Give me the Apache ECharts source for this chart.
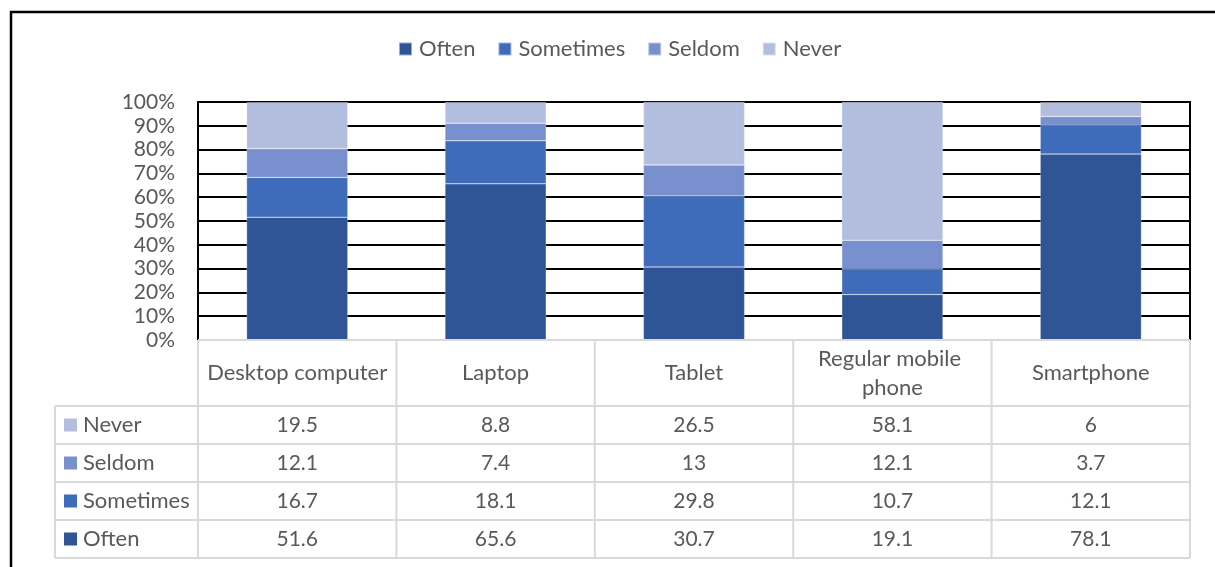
<!DOCTYPE html>
<html><head><meta charset="utf-8">
<script src="https://cdn.jsdelivr.net/npm/echarts@6/dist/echarts.min.js"></script>
<style>html,body{margin:0;padding:0;background:#fff}#c{width:1215px;height:567px}</style>
</head><body><div id="c"></div>
<script>
const categories = ['Desktop computer', 'Laptop', 'Tablet', 'Regular mobile phone', 'Smartphone'];
const often = [51.6, 65.6, 30.7, 19.1, 78.1];
const sometimes = [16.7, 18.1, 29.8, 10.7, 12.1];
const seldom = [12.1, 7.4, 13, 12.1, 3.7];
const never = [19.5, 8.8, 26.5, 58.1, 6];
const seriesNames = ['Often', 'Sometimes', 'Seldom', 'Never'];
const yTicks = [0, 10, 20, 30, 40, 50, 60, 70, 80, 90, 100];

const colors = ['#2F5597', '#3E6BBA', '#7891CE', '#B3BEDF'];
const FONT = 'Lato, "Open Sans", sans-serif';
const TXT = '#595959';
const WORD = 22, NUM = 21;
const seriesData = [often, sometimes, seldom, never];

const chart = echarts.init(document.getElementById('c'), null, {renderer: 'canvas'});
const gridLeft = 198, gridRight = 25, gridTop = 102, gridBottom = 227;

chart.setOption({
  animation: false,
  textStyle: {fontFamily: FONT},
  legend: {
    top: 33, left: 393, icon: 'rect', itemWidth: 13, itemHeight: 13, itemGap: 22,
    data: seriesNames,
    textStyle: {fontSize: WORD, color: TXT, fontFamily: FONT, padding: [0, 0, 0, 2]}
  },
  grid: {left: gridLeft, right: gridRight, top: gridTop, bottom: gridBottom, show: true, borderColor: '#000', borderWidth: 2},
  xAxis: {
    type: 'category', data: categories,
    axisLine: {show: false}, axisTick: {show: false},
    axisLabel: {margin: 33, verticalAlign: 'middle', color: TXT, fontSize: WORD, fontFamily: FONT,
      width: 185, overflow: 'break', lineHeight: 29, interval: 0}
  },
  yAxis: {
    type: 'value', min: yTicks[0], max: yTicks[yTicks.length - 1], interval: 10,
    axisLine: {show: true, lineStyle: {color: '#000', width: 2}},
    axisTick: {show: false},
    axisLabel: {formatter: '{value}%', color: TXT, fontSize: NUM, fontFamily: FONT, margin: 23},
    splitLine: {lineStyle: {color: '#000', width: 2}}
  },
  series: seriesNames.map((n, i) => ({
    name: n, type: 'bar', stack: 'all', data: seriesData[i], barWidth: '51%',
    itemStyle: {color: colors[i], borderColor: 'rgba(255,255,255,0.5)', borderWidth: 0.5}
  }))
});

// Data table below the plot, laid out from the category axis
const colCenters = categories.map(c => chart.convertToPixel({xAxisIndex: 0}, c));
const half = (colCenters[1] - colCenters[0]) / 2;
const colEdges = colCenters.map(c => c - half).concat([colCenters[colCenters.length - 1] + half]);
const y0 = chart.convertToPixel({yAxisIndex: 0}, 0);
const headerBottom = y0 + 66;
const rowH = 38;
const tableLeft = 55;
const tableRows = ['Never', 'Seldom', 'Sometimes', 'Often'];
const rowData = [never, seldom, sometimes, often];
const rowColor = [colors[3], colors[2], colors[1], colors[0]];
const gray = '#D9D9D9';
const g = [];
const L = (x1, y1, x2, y2) => g.push({type: 'line', z: 100, shape: {x1, y1, x2, y2}, style: {stroke: gray, lineWidth: 2}});
const tableBottom = headerBottom + rowH * tableRows.length;
L(colEdges[0], y0, colEdges[colEdges.length - 1], y0);
for (let r = 0; r <= tableRows.length; r++) L(tableLeft, headerBottom + r * rowH, colEdges[colEdges.length - 1], headerBottom + r * rowH);
colEdges.forEach(x => L(x, y0, x, tableBottom));
L(tableLeft, headerBottom, tableLeft, tableBottom);
tableRows.forEach((name, r) => {
  const cy = headerBottom + r * rowH + rowH / 2;
  g.push({type: 'rect', z: 100, shape: {x: tableLeft + 9, y: cy - 6.5, width: 13, height: 13}, style: {fill: rowColor[r]}});
  g.push({type: 'text', z: 100, x: tableLeft + 28, y: cy, style: {text: name, fill: TXT, font: WORD + 'px ' + FONT, textVerticalAlign: 'middle', textAlign: 'left'}});
  rowData[r].forEach((v, i) => {
    g.push({type: 'text', z: 100, x: colCenters[i], y: cy, style: {text: String(v), fill: TXT, font: NUM + 'px ' + FONT, textVerticalAlign: 'middle', textAlign: 'center'}});
  });
});
g.push({type: 'rect', z: 100, shape: {x: 11, y: 12, width: 1400, height: 800}, style: {fill: 'none', stroke: '#000', lineWidth: 2.5}});
chart.setOption({graphic: g});
</script></body></html>
